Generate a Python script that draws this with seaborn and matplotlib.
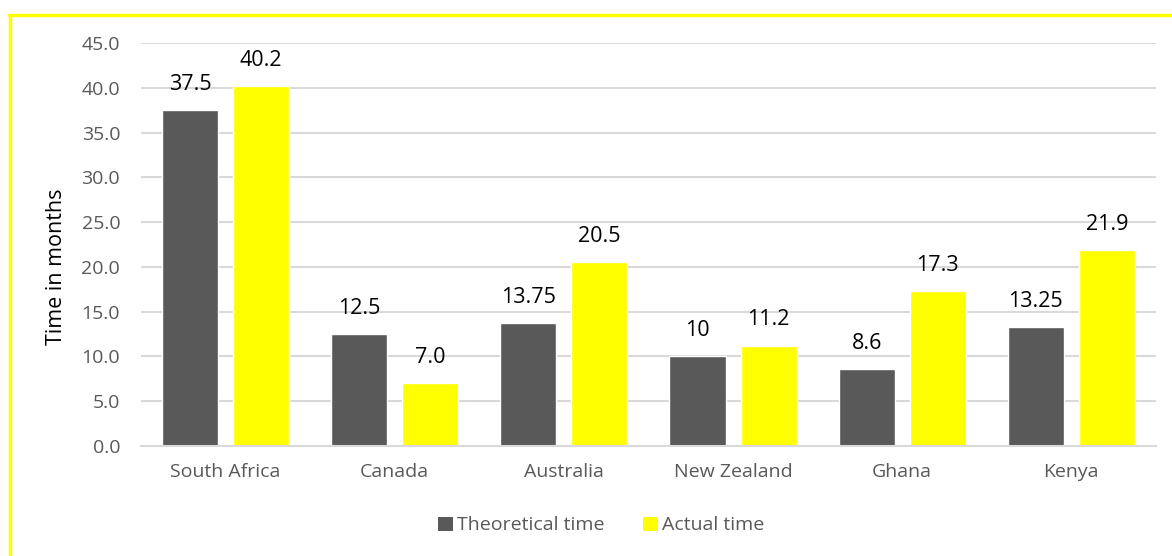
import matplotlib
matplotlib.use("Agg")
import matplotlib.pyplot as plt
import seaborn as sns
import pandas as pd
from matplotlib.lines import Line2D
from matplotlib.patches import Patch

countries = ["South Africa", "Canada", "Australia", "New Zealand", "Ghana", "Kenya"]
theoretical = [37.5, 12.5, 13.75, 10, 8.6, 13.25]
actual = [40.2, 7.0, 20.5, 11.2, 17.3, 21.9]
theoretical_labels = ["37.5", "12.5", "13.75", "10", "8.6", "13.25"]
actual_labels = ["40.2", "7.0", "20.5", "11.2", "17.3", "21.9"]
series = ["Theoretical time", "Actual time"]
yticks = [0, 5, 10, 15, 20, 25, 30, 35, 40, 45]

df = pd.DataFrame({
    "Country": countries * 2,
    "Series": [series[0]] * len(countries) + [series[1]] * len(countries),
    "Value": theoretical + actual,
})

sns.set_theme(style="white")
plt.rcParams["font.family"] = ["Open Sans", "DejaVu Sans"]

fig = plt.figure(figsize=(11.72, 5.56), dpi=100)
ax = fig.add_axes([0.1203, 0.1978, 0.8660, 0.7249])

palette = {series[0]: "#595959", series[1]: "#ffff00"}
sns.barplot(data=df, x="Country", y="Value", hue="Series", order=countries,
            hue_order=series, palette=palette, width=0.84, gap=0.21,
            saturation=1, ax=ax, legend=False, errorbar=None)

ax.set_ylim(0, 45)
ax.set_xlim(-0.5, len(countries) - 0.5)
ax.set_yticks(yticks)
ax.set_yticklabels([f"{v:.1f}" for v in yticks])
ax.yaxis.grid(True, color="#d9d9d9", linewidth=1.5)
ax.set_axisbelow(True)
for s in ["top", "right", "left"]:
    ax.spines[s].set_visible(False)
ax.spines["bottom"].set_color("#d9d9d9")
ax.spines["bottom"].set_linewidth(1.5)
ax.tick_params(axis="both", length=0, labelsize=14, colors="#595959")
ax.tick_params(axis="x", pad=12)
ax.tick_params(axis="y", pad=15)
ax.set_xlabel("")
ax.set_ylabel("Time in months", fontsize=15.5, color="#000000", labelpad=9)
ax.yaxis.set_label_coords(-0.073, 0.444)

labels_all = [theoretical_labels, actual_labels]
for cont, labs in zip(ax.containers, labels_all):
    ax.bar_label(cont, labels=labs, padding=11, fontsize=15.5, color="#000000")

handles = [Patch(facecolor=palette[s], edgecolor="none") for s in series]
fig.legend(handles, series, loc="center", bbox_to_anchor=(0.513, 0.055), ncol=2,
           frameon=False, fontsize=14, handlelength=0.75, handleheight=0.75,
           handletextpad=0.2, columnspacing=2.0, labelcolor="#595959")

# yellow border (top and left)
fig.add_artist(Line2D([9.5 / 1172, 1.0], [1 - 15 / 556, 1 - 15 / 556],
                      transform=fig.transFigure, color="#ffff00", linewidth=2.5))
fig.add_artist(Line2D([10 / 1172, 10 / 1172], [0, 1 - 15 / 556],
                      transform=fig.transFigure, color="#ffff00", linewidth=2.5))

fig.savefig("out.png", dpi=100)
